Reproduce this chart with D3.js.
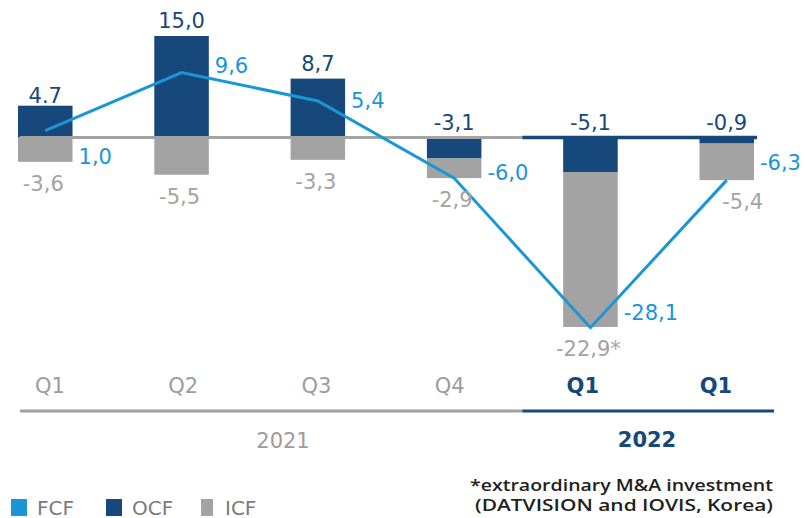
<!DOCTYPE html>
<html>
<head>
<meta charset="utf-8">
<script src="https://cdn.jsdelivr.net/npm/d3@7"></script>
<style>
  html, body { margin: 0; padding: 0; background: #fff; }
  svg { display: block; font-family: "DejaVu Sans", sans-serif; }
</style>
</head>
<body>
<svg id="drawing_region"></svg>
<script>
// quarters and the year each one belongs to
const quarters = ["Q1", "Q2", "Q3", "Q4", "Q1", "Q1"];
const years = ["2021", "2021", "2021", "2021", "2022", "2022"];

// cash flows (EUR m)
const ocf = [4.7, 15.0, 8.7, -3.1, -5.1, -0.9];
const icf = [-3.6, -5.5, -3.3, -2.9, -22.9, -5.4];
const fcf = [1.0, 9.6, 5.4, -6.0, -28.1, -6.3];

// value labels as printed
const ocfText = ["4.7", "15,0", "8,7", "-3,1", "-5,1", "-0,9"];
const icfText = ["-3,6", "-5,5", "-3,3", "-2,9", "-22,9*", "-5,4"];
const fcfText = ["1,0", "9,6", "5,4", "-6,0", "-28,1", "-6,3"];

const legendItems = ["FCF", "OCF", "ICF"];
const footnote = ["*extraordinary M&A investment", "(DATVISION and IOVIS, Korea)"];

const colors = {
    FCF: "#1a96d6",
    OCF: "#17487b",
    ICF: "#a3a3a3",
    grayText: "#a3a3a3"
};

class CashFlowChart {

    constructor( config ) {
        this.config = config;
        this.data = quarters.map( (q, i) => ({
            i: i, quarter: q, year: years[i],
            ocf: ocf[i], icf: icf[i], fcf: fcf[i]
        }));
        this.init();
    }

    init() {
        let self = this;

        self.svg = d3.select( self.config.parent )
            .attr('width', self.config.width)
            .attr('height', self.config.height);

        self.xscale = d3.scaleBand()
            .domain( d3.range(self.data.length) )
            .range( [18, 754] )
            .paddingInner(0.6)
            .paddingOuter(0);

        self.yscale = d3.scaleLinear()
            .domain( [0, 15] )
            .range( [137.5, 36] );

        // tick labels sit on a slightly tighter spacing than the bars
        self.labelscale = d3.scalePoint()
            .domain( d3.range(self.data.length) )
            .range( [50, 716] );
    }

    render() {
        let self = this;
        const x = self.xscale, y = self.yscale;
        const bw = x.bandwidth();
        const cx = i => x(i) + bw/2;
        const y0 = y(0);

        // OCF bars
        self.svg.append('g').selectAll('rect')
            .data(self.data)
            .join('rect')
            .attr('x', d => x(d.i))
            .attr('width', bw)
            .attr('y', d => y(Math.max(d.ocf, 0)))
            .attr('height', d => Math.abs(y(d.ocf) - y0))
            .attr('fill', colors.OCF);

        // ICF bars stacked under the negative part
        self.svg.append('g').selectAll('rect')
            .data(self.data)
            .join('rect')
            .attr('x', d => x(d.i))
            .attr('width', bw)
            .attr('y', d => y(Math.min(d.ocf, 0)))
            .attr('height', d => Math.abs(y(d.icf) - y0))
            .attr('fill', colors.ICF);

        // zero line: gray for 2021, dark blue for 2022
        const split = (x(3) + bw + x(4)) / 2;
        self.svg.append('line')
            .attr('x1', x(0) + 2).attr('x2', split)
            .attr('y1', y0).attr('y2', y0)
            .attr('stroke', colors.ICF).attr('stroke-width', 3);
        self.svg.append('line')
            .attr('x1', split).attr('x2', x(5) + bw + 3)
            .attr('y1', y0).attr('y2', y0)
            .attr('stroke', colors.OCF).attr('stroke-width', 3.5);

        // FCF line
        const line = d3.line()
            .x(d => cx(d.i))
            .y(d => y(d.fcf));
        self.svg.append('path')
            .datum(self.data)
            .attr('d', line)
            .attr('fill', 'none')
            .attr('stroke', colors.FCF)
            .attr('stroke-width', 3)
            .attr('stroke-linejoin', 'miter');

        // OCF labels: above the bar, or above the zero line when negative
        self.svg.append('g').selectAll('text')
            .data(self.data)
            .join('text')
            .attr('x', d => cx(d.i))
            .attr('y', d => Math.min(y(d.ocf), y0) - (d.ocf > 0 && d.ocf < 5 ? 3 : 8))
            .attr('text-anchor', 'middle')
            .attr('font-size', '21px')
            .attr('fill', colors.OCF)
            .text(d => ocfText[d.i]);

        // ICF labels under the stack (last one pushed right of the line)
        self.svg.append('g').selectAll('text')
            .data(self.data)
            .join('text')
            .attr('x', d => cx(d.i) + (d.i === 5 ? 16 : -2))
            .attr('y', d => y(Math.min(d.ocf, 0) + d.icf) + 29)
            .attr('text-anchor', 'middle')
            .attr('font-size', '21px')
            .attr('fill', colors.grayText)
            .text(d => icfText[d.i]);

        // FCF labels right of the bar
        const fcfDy = [33, 0, 7, 2, -8, -10];
        self.svg.append('g').selectAll('text')
            .data(self.data)
            .join('text')
            .attr('x', d => x(d.i) + bw + 6)
            .attr('y', d => y(d.fcf) + fcfDy[d.i])
            .attr('text-anchor', 'start')
            .attr('font-size', '21px')
            .attr('fill', colors.FCF)
            .text(d => fcfText[d.i]);

        // quarter labels
        self.svg.append('g').selectAll('text')
            .data(self.data)
            .join('text')
            .attr('x', d => self.labelscale(d.i))
            .attr('y', 393)
            .attr('text-anchor', 'middle')
            .attr('font-size', '21px')
            .attr('font-weight', d => d.year === "2022" ? 'bold' : 'normal')
            .attr('fill', d => d.year === "2022" ? colors.OCF : "#9c9c9c")
            .text(d => d.quarter);

        // year axis lines and labels
        self.svg.append('line')
            .attr('x1', 20).attr('x2', split)
            .attr('y1', 411).attr('y2', 411)
            .attr('stroke', "#a0a0a0").attr('stroke-width', 3);
        self.svg.append('line')
            .attr('x1', split).attr('x2', 774)
            .attr('y1', 411).attr('y2', 411)
            .attr('stroke', colors.OCF).attr('stroke-width', 3);

        self.svg.append('text')
            .attr('x', 283).attr('y', 448)
            .attr('text-anchor', 'middle')
            .attr('font-size', '21px')
            .attr('fill', "#9c9c9c")
            .text("2021");
        self.svg.append('text')
            .attr('x', 647).attr('y', 447)
            .attr('text-anchor', 'middle')
            .attr('font-size', '21px')
            .attr('font-weight', 'bold')
            .attr('fill', colors.OCF)
            .text("2022");

        // legend
        const legendX = [11, 106, 201];
        const legend = self.svg.append('g').selectAll('g')
            .data(legendItems)
            .join('g')
            .attr('transform', (d, i) => `translate(${legendX[i]}, 499)`);
        legend.append('rect')
            .attr('width', (d, i) => i === 2 ? 12 : 16)
            .attr('height', 17)
            .attr('fill', d => colors[d]);
        legend.append('text')
            .attr('x', (d, i) => i === 2 ? 24 : 26)
            .attr('y', 15.5)
            .attr('font-size', '20px')
            .attr('fill', "#7a7a7a")
            .text(d => d);

        // footnote
        self.svg.append('g').selectAll('text')
            .data(footnote)
            .join('text')
            .attr('x', 773)
            .attr('y', (d, i) => 491 + i*20)
            .attr('text-anchor', 'end')
            .attr('font-family', '"Open Sans", sans-serif')
            .attr('font-size', '16.5px')
            .attr('font-weight', 600)
            .attr('fill', "#231f20")
            .attr('textLength', (d, i) => i === 0 ? 303 : 298)
            .attr('lengthAdjust', 'spacingAndGlyphs')
            .text(d => d);
    }
}

const chart = new CashFlowChart({
    parent: '#drawing_region',
    width: 805,
    height: 518
});
chart.render();
</script>
</body>
</html>
